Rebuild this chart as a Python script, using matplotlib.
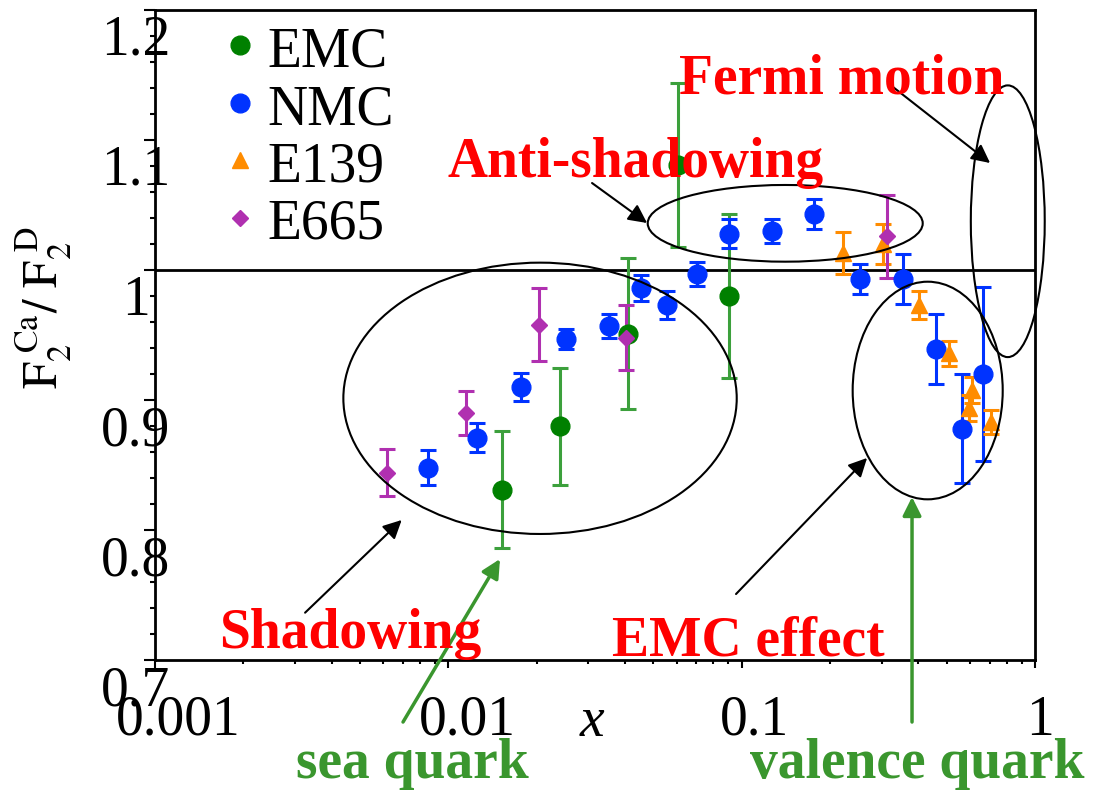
import matplotlib.pyplot as plt
import matplotlib.transforms as mtransforms
from matplotlib.patches import Ellipse
from matplotlib.ticker import FixedLocator, MultipleLocator, LogLocator, NullFormatter

plt.rcParams['font.family'] = ['Liberation Serif', 'DejaVu Serif']
plt.rcParams['mathtext.fontset'] = 'stix'

# data: F2(Ca)/F2(D) vs x
emc_x = [0.0152, 0.0241, 0.0411, 0.0606, 0.0907]
emc_y = [0.831, 0.880, 0.951, 1.081, 0.980]
emc_err = [0.045, 0.045, 0.058, 0.063, 0.063]

nmc_x = [0.00853, 0.01256, 0.01765, 0.0252, 0.0352, 0.0452, 0.0555, 0.0706,
         0.0907, 0.1266, 0.1765, 0.254, 0.356, 0.458, 0.562, 0.662]
nmc_y = [0.848, 0.871, 0.910, 0.947, 0.957, 0.986, 0.973, 0.997,
         1.028, 1.030, 1.043, 0.993, 0.993, 0.939, 0.878, 0.920]
nmc_err = [0.0135, 0.011, 0.011, 0.008, 0.009, 0.010, 0.011, 0.009,
           0.011, 0.0095, 0.0115, 0.0115, 0.019, 0.027, 0.042, 0.067]

e139_x = [0.222, 0.302, 0.403, 0.509, 0.595, 0.608, 0.708]
e139_y = [1.013, 1.020, 0.973, 0.936, 0.894, 0.908, 0.883]
e139_err = [0.016, 0.015, 0.011, 0.0095, 0.010, 0.010, 0.009]

e665_x = [0.00618, 0.0115, 0.0203, 0.0402, 0.312]
e665_y = [0.844, 0.890, 0.958, 0.948, 1.026]
e665_err = [0.018, 0.017, 0.028, 0.025, 0.032]

series_names = ["EMC", "NMC", "E139", "E665"]
xtick_vals = [0.001, 0.01, 0.1, 1]
xtick_labels = ["0.001", "0.01", "0.1", "1"]
ytick_vals = [0.7, 0.8, 0.9, 1.0, 1.1, 1.2]
ytick_labels = ["0.7", "0.8", "0.9", "1", "1.1", "1.2"]

green = "#008000"
green_bar = "#3ca03c"
blue = "#0033ff"
orange = "#ff8c00"
magenta = "#b030b0"
note_green = "#3a962e"

fig = plt.figure(figsize=(11.05, 7.93), dpi=100)
ax = fig.add_axes([0.1403, 0.1677, 0.7964, 0.8197])

kw = dict(fmt="o", elinewidth=2.2, capsize=5.5, capthick=2.2, zorder=3)
ax.errorbar(emc_x, emc_y, yerr=emc_err, color=green, ecolor=green_bar, ms=13.5, **kw)
ax.errorbar(nmc_x, nmc_y, yerr=nmc_err, color=blue, ms=13.5, **kw)
kw["fmt"] = "^"
ax.errorbar(e139_x, e139_y, yerr=e139_err, color=orange, ms=11.5, **kw)
kw["fmt"] = "D"
ax.errorbar(e665_x, e665_y, yerr=e665_err, color=magenta, ms=8.5, **kw)

ax.axhline(1.0, color="black", lw=2, zorder=2)

ax.set_xscale("log")
ax.set_xlim(0.001, 1)
ax.set_ylim(0.7, 1.2)

for s in ax.spines.values():
    s.set_linewidth(2)

# ticks
ax.xaxis.set_major_locator(FixedLocator(xtick_vals))
ax.set_xticklabels(xtick_labels)
ax.xaxis.set_minor_locator(LogLocator(base=10, subs=range(2, 10)))
ax.xaxis.set_minor_formatter(NullFormatter())
ax.yaxis.set_major_locator(FixedLocator(ytick_vals))
ax.set_yticklabels(ytick_labels)
ax.yaxis.set_minor_locator(MultipleLocator(0.02))
ax.tick_params(which="both", direction="out", width=1.5, top=False, right=False)
ax.tick_params(axis="x", which="major", length=6, pad=19, labelsize=40)
ax.tick_params(axis="x", which="minor", length=3)
ax.tick_params(axis="y", which="major", length=8, pad=6, labelsize=40)
ax.tick_params(axis="y", which="minor", length=3.5)

# the labels sit shifted off their ticks in the original
for lab in ax.get_yticklabels():
    lab.set_ha("center")
    lab.set_transform(lab.get_transform() +
                      mtransforms.ScaledTranslation(0, -18 / 72, fig.dpi_scale_trans))
for lab, dx in zip(ax.get_xticklabels(), [16.6, 13.7, 9.4, 3.6]):
    lab.set_transform(lab.get_transform() +
                      mtransforms.ScaledTranslation(dx / 72, 0, fig.dpi_scale_trans))

ax.set_xlabel("x", fontsize=40, style="italic")
ax.xaxis.set_label_coords(0.4966, -0.0954)
ax.xaxis.label.set_va("center")
ax.set_ylabel(r"$\mathrm{F_2^{\ Ca}/\ F_2^{\ D}}$", fontsize=35)
ax.yaxis.set_label_coords(-0.127, 0.5415)
ax.yaxis.label.set_va("center")

# hand-made legend
leg_marks = [("o", green, 13.5), ("o", blue, 13.5), ("^", orange, 11.5), ("D", magenta, 8.5)]
for i, (name, (m, c, ms)) in enumerate(zip(series_names, leg_marks)):
    ax.plot([0.0966], [0.946 - 0.0885 * i], m, color=c, ms=ms, transform=ax.transAxes)
    ax.text(0.128, 0.934 - 0.0880 * i, name, transform=ax.transAxes,
            fontsize=40, va="center", ha="left")

# regions
ellipses = [((0.4375, 0.4026), 0.447, 0.4174),
            ((0.7161, 0.6718), 0.3125, 0.118),
            ((0.969, 0.675), 0.084, 0.418),
            ((0.878, 0.4146), 0.1705, 0.3348)]
for (cx, cy), w, h in ellipses:
    ax.add_patch(Ellipse((cx, cy), w, h, transform=ax.transAxes, fill=False,
                         ec="black", lw=1.5, clip_on=False, zorder=4))

arrows = [((0.8386, 0.8815), (0.9489, 0.7646), "black"),
          ((0.4966, 0.7338), (0.5591, 0.6723), "black"),
          ((0.1705, 0.0728), (0.2803, 0.2154), "black"),
          ((0.6602, 0.1015), (0.8091, 0.3108), "black"),
          ((0.2818, -0.0954), (0.392, 0.1554), note_green),
          ((0.8602, -0.0954), (0.8602, 0.2508), note_green)]
for start, tip, c in arrows:
    lw = 1.5 if c == "black" else 2.5
    ax.annotate("", xy=tip, xytext=start, xycoords="axes fraction",
                textcoords="axes fraction", annotation_clip=False,
                arrowprops=dict(arrowstyle="-|>", color=c, lw=lw,
                                mutation_scale=28, shrinkA=0, shrinkB=0))

notes = [("Fermi motion", 0.7807, 0.8708, "red"),
         ("Anti-shadowing", 0.5455, 0.7431, "red"),
         ("Shadowing", 0.2216, 0.0185, "red"),
         ("EMC effect", 0.6739, 0.0062, "red"),
         ("sea quark", 0.292, -0.182, note_green),
         ("valence quark", 0.8659, -0.182, note_green)]
for txt, tx, ty, c in notes:
    ax.text(tx, ty, txt, transform=ax.transAxes, ha="center", va="baseline",
            color=c, fontweight="bold", fontsize=40, zorder=6, clip_on=False)

fig.savefig("out.png", dpi=100)
